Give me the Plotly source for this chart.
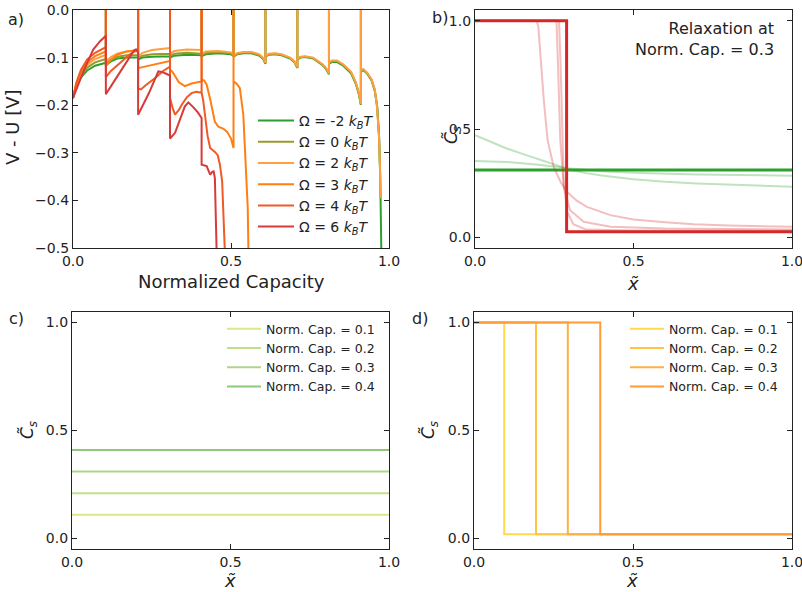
import plotly.graph_objects as go

W, H = 802, 592
FONT = "DejaVu Sans"

# ---------------- panel a data ----------------
spike_caps = [0.104, 0.206, 0.307, 0.407, 0.508, 0.609, 0.710, 0.810, 0.911]
spike_top = 0.02

omega_labels = ["-2", "0", "2", "3", "4", "6"]
omega_colors = ["#2ca02c", "#9a9a2a", "#ffa040", "#ff7f12", "#f05a24", "#d83a3a"]
omega_nspikes = [9, 9, 9, 5, 4, 0]

seg_m2 = [
    [(0, -0.185), (0.01, -0.162), (0.025, -0.142), (0.045, -0.127), (0.07, -0.117), (0.104, -0.111)],
    [(0.104, -0.116), (0.12, -0.108), (0.14, -0.102), (0.17, -0.100), (0.206, -0.100)],
    [(0.206, -0.104), (0.22, -0.100), (0.25, -0.098), (0.307, -0.097)],
    [(0.307, -0.100), (0.32, -0.096), (0.36, -0.094), (0.407, -0.095)],
    [(0.407, -0.097), (0.42, -0.093), (0.46, -0.091), (0.50, -0.093), (0.508, -0.096)],
    [(0.508, -0.098), (0.52, -0.093), (0.54, -0.091), (0.565, -0.091), (0.59, -0.096), (0.602, -0.103), (0.609, -0.113)],
    [(0.609, -0.098), (0.62, -0.094), (0.64, -0.093), (0.66, -0.095), (0.687, -0.102), (0.70, -0.109), (0.710, -0.122)],
    [(0.710, -0.104), (0.72, -0.100), (0.735, -0.099), (0.76, -0.102), (0.79, -0.116), (0.80, -0.123), (0.810, -0.135)],
    [(0.810, -0.113), (0.82, -0.109), (0.835, -0.109), (0.855, -0.117), (0.88, -0.133), (0.895, -0.155), (0.905, -0.178), (0.911, -0.199)],
    [(0.911, -0.128), (0.92, -0.127), (0.93, -0.133), (0.945, -0.148), (0.955, -0.170), (0.963, -0.205), (0.969, -0.27), (0.9725, -0.36), (0.9745, -0.44), (0.976, -0.52)],
]
seg_0 = [
    [(0, -0.185), (0.01, -0.160), (0.025, -0.138), (0.045, -0.121), (0.07, -0.110), (0.104, -0.103)],
    [(0.104, -0.112), (0.12, -0.104), (0.14, -0.098), (0.17, -0.095), (0.206, -0.095)],
    [(0.206, -0.100), (0.22, -0.096), (0.25, -0.093), (0.307, -0.092)],
    [(0.307, -0.097), (0.32, -0.092), (0.36, -0.090), (0.407, -0.092)],
    [(0.407, -0.095), (0.42, -0.090), (0.46, -0.088), (0.50, -0.091), (0.508, -0.095)],
    [(0.508, -0.097), (0.52, -0.092), (0.54, -0.090), (0.565, -0.090), (0.59, -0.095), (0.602, -0.102), (0.609, -0.112)],
    [(0.609, -0.097), (0.62, -0.093), (0.64, -0.092), (0.66, -0.094), (0.687, -0.101), (0.70, -0.108), (0.710, -0.121)],
    [(0.710, -0.103), (0.72, -0.099), (0.735, -0.098), (0.76, -0.101), (0.79, -0.115), (0.80, -0.122), (0.810, -0.134)],
    [(0.810, -0.111), (0.82, -0.107), (0.835, -0.107), (0.855, -0.115), (0.88, -0.131), (0.895, -0.153), (0.905, -0.176), (0.911, -0.198)],
    [(0.911, -0.126), (0.92, -0.125), (0.93, -0.132), (0.945, -0.147), (0.955, -0.168), (0.962, -0.200), (0.968, -0.26), (0.9715, -0.33), (0.9725, -0.395)],
]
seg_2 = [
    [(0, -0.185), (0.01, -0.158), (0.025, -0.134), (0.045, -0.115), (0.07, -0.103), (0.104, -0.094)],
    [(0.104, -0.108), (0.12, -0.099), (0.14, -0.092), (0.17, -0.087), (0.206, -0.085)],
    [(0.206, -0.098), (0.22, -0.090), (0.25, -0.084), (0.307, -0.080)],
    [(0.307, -0.092), (0.32, -0.086), (0.36, -0.083), (0.407, -0.084)],
    [(0.407, -0.093), (0.42, -0.087), (0.46, -0.086), (0.50, -0.089), (0.508, -0.094)],
    [(0.508, -0.096), (0.52, -0.090), (0.54, -0.088), (0.565, -0.088), (0.59, -0.093), (0.602, -0.101), (0.609, -0.111)],
    [(0.609, -0.096), (0.62, -0.092), (0.64, -0.091), (0.66, -0.093), (0.687, -0.100), (0.70, -0.107), (0.710, -0.120)],
    [(0.710, -0.102), (0.72, -0.098), (0.735, -0.097), (0.76, -0.100), (0.79, -0.114), (0.80, -0.121), (0.810, -0.133)],
    [(0.810, -0.110), (0.82, -0.106), (0.835, -0.106), (0.855, -0.114), (0.88, -0.130), (0.895, -0.152), (0.905, -0.175), (0.911, -0.197)],
    [(0.911, -0.125), (0.918, -0.124), (0.93, -0.131), (0.945, -0.146), (0.955, -0.167), (0.961, -0.197), (0.968, -0.26), (0.9715, -0.33), (0.9725, -0.395)],
]
seg_3 = [
    [(0, -0.185), (0.01, -0.156), (0.025, -0.130), (0.045, -0.110), (0.07, -0.097), (0.104, -0.087)],
    [(0.104, -0.118), (0.12, -0.105), (0.14, -0.094), (0.17, -0.087), (0.206, -0.084)],
    [(0.206, -0.1225), (0.22, -0.120), (0.25, -0.115), (0.28, -0.110), (0.307, -0.107)],
    [(0.307, -0.125), (0.315, -0.130), (0.323, -0.139), (0.335, -0.152), (0.354, -0.160), (0.375, -0.1545), (0.407, -0.150)],
    [(0.407, -0.146), (0.415, -0.148), (0.423, -0.157), (0.435, -0.190), (0.449, -0.235), (0.46, -0.245), (0.475, -0.249), (0.488, -0.256), (0.50, -0.270), (0.508, -0.290)],
    [(0.508, -0.150), (0.518, -0.155), (0.528, -0.164), (0.539, -0.220), (0.546, -0.311), (0.553, -0.416), (0.555, -0.50), (0.556, -0.55)],
]
seg_4 = [
    [(0, -0.185), (0.01, -0.154), (0.025, -0.126), (0.045, -0.104), (0.07, -0.090), (0.104, -0.078)],
    [(0.104, -0.141), (0.12, -0.128), (0.15, -0.110), (0.18, -0.093), (0.195, -0.087), (0.206, -0.086)],
    [(0.206, -0.165), (0.215, -0.167), (0.23, -0.158), (0.26, -0.143), (0.285, -0.128), (0.307, -0.119)],
    [(0.307, -0.185), (0.315, -0.205), (0.323, -0.220), (0.335, -0.210), (0.344, -0.199), (0.36, -0.1835), (0.375, -0.1747), (0.39, -0.172), (0.407, -0.174)],
    [(0.407, -0.174), (0.412, -0.190), (0.418, -0.227), (0.426, -0.265), (0.434, -0.290), (0.449, -0.298), (0.458, -0.305), (0.465, -0.325), (0.472, -0.360), (0.476, -0.416), (0.481, -0.50), (0.483, -0.55)],
]
seg_6 = [
    [(0, -0.185), (0.01, -0.168), (0.033, -0.129), (0.064, -0.083), (0.085, -0.066), (0.104, -0.054)],
    [(0.104, -0.177), (0.13, -0.150), (0.16, -0.118), (0.19, -0.088), (0.195, -0.084), (0.20, -0.083), (0.204, -0.086), (0.206, -0.090)],
    [(0.206, -0.220), (0.24, -0.175), (0.27, -0.129), (0.28, -0.130), (0.295, -0.134), (0.307, -0.138)],
    [(0.307, -0.270), (0.323, -0.258), (0.354, -0.2024), (0.365, -0.194), (0.381, -0.2045), (0.395, -0.215), (0.407, -0.227)],
    [(0.407, -0.325), (0.423, -0.328), (0.434, -0.346), (0.441, -0.340), (0.445, -0.339), (0.449, -0.353), (0.4515, -0.416), (0.4546, -0.50), (0.456, -0.55)],
]
omega_segments = [seg_m2, seg_0, seg_2, seg_3, seg_4, seg_6]

# ---------------- panel b data ----------------
b_green_x = [0.0, 1.0]
b_green_y = [0.31, 0.31]
b_green_f1_x = [0, 0.05, 0.1, 0.15, 0.2, 0.25, 0.3, 0.35, 0.4, 0.5, 0.6, 0.7, 0.8, 0.9, 1.0]
b_green_f1_y = [0.472, 0.44, 0.41, 0.385, 0.36, 0.335, 0.312, 0.296, 0.285, 0.268, 0.256, 0.248, 0.242, 0.237, 0.233]
b_green_f2_x = [0, 0.1, 0.2, 0.3, 0.4, 0.5, 0.7, 1.0]
b_green_f2_y = [0.352, 0.348, 0.335, 0.318, 0.305, 0.298, 0.29, 0.284]
b_red_x = [0.0, 0.289, 0.289, 1.0]
b_red_y = [1.0, 1.0, 0.025, 0.025]
b_red_f1_x = [0, 0.195, 0.2, 0.206, 0.217, 0.229, 0.248, 0.27, 0.29, 0.32, 0.353, 0.427, 0.5, 0.6, 0.69, 0.8, 0.9, 1.0]
b_red_f1_y = [1.0, 1.0, 0.97, 0.835, 0.634, 0.449, 0.326, 0.255, 0.21, 0.17, 0.14, 0.102, 0.082, 0.069, 0.06, 0.054, 0.05, 0.048]
b_red_f2_x = [0, 0.257, 0.262, 0.269, 0.28, 0.30, 0.343, 0.427, 0.6, 1.0]
b_red_f2_y = [1.0, 1.0, 0.79, 0.449, 0.233, 0.125, 0.071, 0.048, 0.04, 0.035]
b_red_f3_x = [0, 0.265, 0.27, 0.275, 0.28, 0.29, 0.31, 0.35, 0.5, 1.0]
b_red_f3_y = [1.0, 1.0, 0.8, 0.45, 0.25, 0.12, 0.06, 0.035, 0.031, 0.03]

# ---------------- panel c / d data ----------------
cap_labels = ["0.1", "0.2", "0.3", "0.4"]
c_levels = [0.11, 0.21, 0.31, 0.41]
c_colors = ["#d6ea8a", "#c2e08a", "#aed68a", "#8ec97a"]
d_fronts = [0.095, 0.195, 0.295, 0.397]
d_high = 1.0
d_low = 0.02
d_colors = ["#ffd84d", "#ffc445", "#ffb040", "#ff9c35"]

fig = go.Figure()

# panel a traces
for lab, col, nsp, segs in zip(omega_labels, omega_colors, omega_nspikes, omega_segments):
    xs, ys = [], []
    for i, seg in enumerate(segs):
        for (cx, cv) in seg:
            xs.append(cx)
            ys.append(cv)
        if i < len(segs) - 1 and i < nsp:
            xs.append(spike_caps[i])
            ys.append(spike_top)
    fig.add_trace(go.Scatter(
        x=xs, y=ys, mode="lines", line=dict(color=col, width=2),
        name=f"Ω = {lab} <i>k</i><sub><i>B</i></sub><i>T</i>",
        xaxis="x", yaxis="y", legend="legend"))

# panel b traces
gf = "rgba(44,160,44,0.3)"
rf = "rgba(214,39,40,0.3)"
for bx, by in [(b_green_f1_x, b_green_f1_y), (b_green_f2_x, b_green_f2_y)]:
    fig.add_trace(go.Scatter(x=bx, y=by, mode="lines", line=dict(color=gf, width=2),
                             showlegend=False, xaxis="x2", yaxis="y2"))
fig.add_trace(go.Scatter(x=b_green_x, y=b_green_y, mode="lines", line=dict(color="#2ca02c", width=3),
                         showlegend=False, xaxis="x2", yaxis="y2"))
for bx, by in [(b_red_f1_x, b_red_f1_y), (b_red_f2_x, b_red_f2_y), (b_red_f3_x, b_red_f3_y)]:
    fig.add_trace(go.Scatter(x=bx, y=by, mode="lines", line=dict(color=rf, width=2),
                             showlegend=False, xaxis="x2", yaxis="y2"))
fig.add_trace(go.Scatter(x=b_red_x, y=b_red_y, mode="lines", line=dict(color="#d62728", width=3),
                         showlegend=False, xaxis="x2", yaxis="y2"))

# panel c traces
for lab, lev, col in zip(cap_labels, c_levels, c_colors):
    fig.add_trace(go.Scatter(x=[0, 1], y=[lev, lev], mode="lines", line=dict(color=col, width=2),
                             name=f"Norm. Cap. = {lab}", xaxis="x3", yaxis="y3", legend="legend2"))

# panel d traces
for lab, fr, col in zip(cap_labels, d_fronts, d_colors):
    fig.add_trace(go.Scatter(x=[0, fr, fr, 1], y=[d_high, d_high, d_low, d_low], mode="lines",
                             line=dict(color=col, width=2),
                             name=f"Norm. Cap. = {lab}", xaxis="x4", yaxis="y4", legend="legend3"))

def px_x(p):
    return p / W

def px_y(p):
    return 1 - p / H

ax_common = dict(showline=True, linecolor="#222", linewidth=1.2, mirror="allticks",
                 ticks="inside", ticklen=5, tickwidth=1, tickcolor="#222",
                 showgrid=False, zeroline=False, tickformat=".1f", automargin=False,
                 ticklabeloverflow="allow",
                 tickfont=dict(family=FONT, size=14, color="#222"))

top_dom = [px_y(248), px_y(10)]
bot_dom = [px_y(549.3), px_y(311.7)]

fig.update_layout(
    width=W, height=H, margin=dict(l=0, r=0, t=0, b=0, autoexpand=False),
    paper_bgcolor="white", plot_bgcolor="white",
    font=dict(family=FONT, color="#222"),
    xaxis=dict(domain=[px_x(73), px_x(389)], range=[0, 1], tickvals=[0, 0.5, 1], anchor="y", **ax_common),
    yaxis=dict(domain=top_dom, range=[-0.5, 0], tickvals=[-0.5, -0.4, -0.3, -0.2, -0.1, 0], anchor="x", **ax_common),
    xaxis2=dict(domain=[px_x(475), px_x(792)], range=[0, 1], tickvals=[0, 0.5, 1], anchor="y2", **ax_common),
    yaxis2=dict(domain=top_dom, range=[-0.05, 1.05], tickvals=[0, 0.5, 1], anchor="x2", **ax_common),
    xaxis3=dict(domain=[px_x(72), px_x(389)], range=[0, 1], tickvals=[0, 0.5, 1], anchor="y3", **ax_common),
    yaxis3=dict(domain=bot_dom, range=[-0.05, 1.05], tickvals=[0, 0.5, 1], anchor="x3", **ax_common),
    xaxis4=dict(domain=[px_x(474), px_x(792)], range=[0, 1], tickvals=[0, 0.5, 1], anchor="y4", **ax_common),
    yaxis4=dict(domain=bot_dom, range=[-0.05, 1.05], tickvals=[0, 0.5, 1], anchor="x4", **ax_common),
    legend=dict(x=px_x(253), y=px_y(105), xanchor="left", yanchor="top", bgcolor="rgba(0,0,0,0)",
                itemwidth=36, font=dict(family=FONT, size=14, color="#222")),
    legend2=dict(x=px_x(222), y=px_y(314), xanchor="left", yanchor="top", bgcolor="rgba(0,0,0,0)",
                 itemwidth=34, font=dict(family=FONT, size=12.5, color="#222")),
    legend3=dict(x=px_x(625), y=px_y(314), xanchor="left", yanchor="top", bgcolor="rgba(0,0,0,0)",
                 itemwidth=34, font=dict(family=FONT, size=12.5, color="#222")),
)

ann = []
def add_text(text, x, y, size, angle=0, xanchor="center", align="center"):
    ann.append(dict(text=text, x=px_x(x), y=px_y(y), xref="paper", yref="paper", showarrow=False,
                    font=dict(family=FONT, size=size, color="#222"), textangle=angle,
                    xanchor=xanchor, yanchor="middle", align=align))

add_text("a)", 16, 19, 16)
add_text("b)", 440, 17, 16)
add_text("c)", 16, 318, 16)
add_text("d)", 420, 318, 16)
add_text("V - U [V]", 13, 127, 18, angle=-90)
add_text("Normalized Capacity", 231, 281, 18)
add_text("<i>x̃</i>", 633, 283, 18)
add_text("<i>C̃</i><sub><i>s</i></sub>", 452, 135, 17, angle=-90)
add_text("<i>x̃</i>", 230, 580, 18)
add_text("<i>C̃</i><sub><i>s</i></sub>", 28, 430, 17, angle=-90)
add_text("<i>x̃</i>", 632, 580, 18)
add_text("<i>C̃</i><sub><i>s</i></sub>", 429, 430, 17, angle=-90)
add_text("Relaxation at<br>Norm. Cap. = 0.3", 776, 39, 16, xanchor="right", align="right")
fig.update_layout(annotations=ann)

fig.write_html("out.html",
               post_script="document.body.style.margin='0';document.body.style.overflow='hidden';")
